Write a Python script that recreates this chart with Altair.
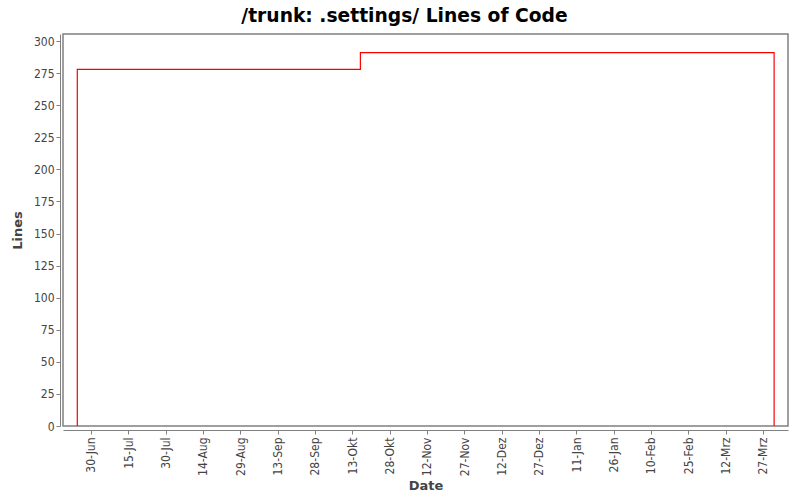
import altair as alt
import pandas as pd

# data
dates = ["2008-06-24T12:00:00", "2008-06-24T12:00:00", "2008-10-16T06:00:00", "2009-03-31T12:00:00"]
lines = [0, 278, 291, 0]

tick_dates = ["2008-06-30", "2008-07-15", "2008-07-30", "2008-08-14", "2008-08-29",
              "2008-09-13", "2008-09-28", "2008-10-13", "2008-10-28", "2008-11-12",
              "2008-11-27", "2008-12-12", "2008-12-27", "2009-01-11", "2009-01-26",
              "2009-02-10", "2009-02-25", "2009-03-12", "2009-03-27"]
y_ticks = [0, 25, 50, 75, 100, 125, 150, 175, 200, 225, 250, 275, 300]

df = pd.DataFrame({"date": dates, "loc": lines, "order": list(range(len(dates)))})


def dt(s):
    y, m, d = (int(p) for p in s.split("-"))
    return alt.DateTime(year=y, month=m, date=d)


label_expr = ("timeFormat(datum.value, '%d') + '-' + "
              "['Jan','Feb','Mrz','Apr','Mai','Jun','Jul','Aug','Sep','Okt','Nov','Dez'][month(datum.value)]")

font = "DejaVu Sans"
label_font = "DejaVu Sans Condensed"

chart = alt.Chart(df).mark_line(
    color="#ff0000", strokeWidth=1.2, interpolate="step-after"
).encode(
    x=alt.X("date:T",
            scale=alt.Scale(domain=[alt.DateTime(year=2008, month=6, date=18, hours=18),
                                    alt.DateTime(year=2009, month=4, date=6, hours=2)]),
            axis=alt.Axis(title="Date", values=[dt(s) for s in tick_dates], labelExpr=label_expr,
                          labelAngle=270, labelAlign="right", labelBaseline="middle",
                          offset=4, tickSize=4, labelPadding=3, grid=False,
                          titlePadding=4)),
    y=alt.Y("loc:Q",
            scale=alt.Scale(domain=[0, 305.5], nice=False),
            axis=alt.Axis(title="Lines", values=y_ticks, offset=3, tickSize=4,
                          labelPadding=2, grid=False, titlePadding=9)),
    order="order:O",
).properties(
    width=725,
    height=392,
    autosize=alt.AutoSizeParams(type="none"),
    padding={"left": 63, "top": 34, "right": 12, "bottom": 74},
    title=alt.TitleParams("/trunk: .settings/ Lines of Code", fontSize=18.7, font=font,
                          fontWeight="bold", color="#000000", anchor="middle", dx=-21, offset=8),
).configure(
    background="white"
).configure_view(
    stroke="#808080", strokeWidth=1.5
).configure_axis(
    domainColor="#808080", tickColor="#808080", labelColor="#444444",
    labelFont=label_font, labelFontSize=12, titleFont=font, titleFontSize=13,
    titleFontWeight="bold", titleColor="#444444",
)

chart.save("out.html", embed_options={"renderer": "svg", "actions": False})
